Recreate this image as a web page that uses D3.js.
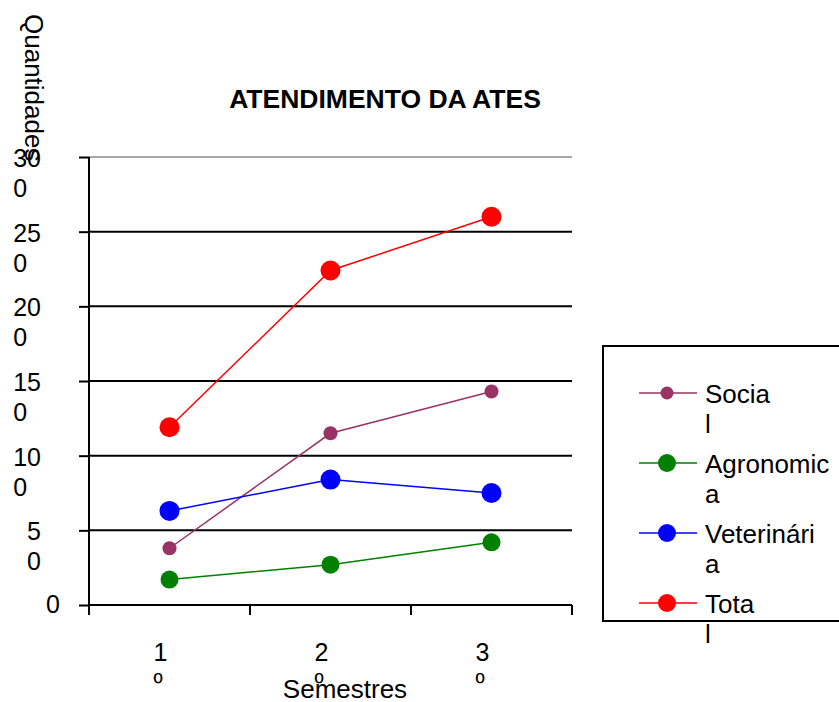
<!DOCTYPE html>
<html>
<head>
<meta charset="utf-8">
<script src="https://cdn.jsdelivr.net/npm/d3@7"></script>
<style>
  body { margin: 0; background: #fff; }
  text { font-family: Arial, "Liberation Sans", sans-serif; fill: #000; }
</style>
</head>
<body>
<div id="chart"></div>
<script>
// Data
const semesters = ["1º", "2º", "3º"];
const seriesNames = ["Social", "Agronomica", "Veterinária", "Total"];
const social = [38, 115, 143];
const agronomica = [17, 27, 42];
const veterinaria = [63, 84, 75];
const total = [119, 224, 260];
const yTicks = [0, 50, 100, 150, 200, 250, 300];
// legend labels as wrapped in the original
const legendLines = [["Socia", "l"], ["Agronomic", "a"], ["Veterinári", "a"], ["Tota", "l"]];

const seriesColors = ["#993366", "#008000", "#0000ff", "#ff0000"];
const markerRadius = [7, 9, 10, 10];
const legendRadius = [6.5, 9, 9, 9];

const settings = {
    width: 839,
    height: 702,
    left: 89,
    right: 572,
    top: 157,
    bottom: 605,
    lineHeight: 30,
    fontSize: 26,
    tickFont: 25,
};

const series = [social, agronomica, veterinaria, total].map((values, i) => ({
    name: seriesNames[i],
    color: seriesColors[i],
    r: markerRadius[i],
    values: values.map((v, j) => ({ cat: semesters[j], value: v })),
}));

const svg = d3.select("#chart").append("svg")
    .attr("width", settings.width)
    .attr("height", settings.height);

const x = d3.scaleBand()
    .domain(semesters)
    .range([settings.left, settings.right])
    .padding(0);

const y = d3.scaleLinear()
    .domain([0, 300])
    .range([settings.bottom, settings.top]);

// Gridlines
svg.append("g")
    .selectAll("line")
    .data(yTicks.filter(d => d > 0))
    .join("line")
    .attr("x1", settings.left)
    .attr("x2", settings.right)
    .attr("y1", d => y(d))
    .attr("y2", d => y(d))
    .attr("stroke", d => d === 300 ? "#a6a6a6" : "#000")
    .attr("stroke-width", 2);

// Y axis
const yAxis = svg.append("g")
    .attr("transform", `translate(${settings.left},0)`)
    .call(d3.axisLeft(y).tickValues(yTicks).tickSize(10).tickFormat(""));
yAxis.select(".domain").remove();
yAxis.selectAll(".tick line").attr("stroke-width", 2);
svg.append("line")
    .attr("x1", settings.left).attr("x2", settings.left)
    .attr("y1", settings.top).attr("y2", settings.bottom + 10)
    .attr("stroke", "#000").attr("stroke-width", 2);

// Y tick labels, wrapped like the original (last digit on its own line)
yTicks.forEach(t => {
    const s = String(t);
    const label = svg.append("text")
        .attr("font-size", settings.tickFont)
        .attr("y", y(t) + (s.length > 1 ? 10 : 8));
    if (s.length === 1) {
        label.attr("x", 60).attr("text-anchor", "end").text(s);
        return;
    }
    const first = label.append("tspan").attr("x", 41).attr("text-anchor", "end").text(s.slice(0, -1));
    const w = first.node().getComputedTextLength();
    label.append("tspan")
        .attr("x", 41 - w)
        .attr("dy", settings.lineHeight)
        .text(s.slice(-1));
});

// X axis
const xEdges = [settings.left].concat(semesters.map(s => x(s) + x.bandwidth()));
svg.append("line")
    .attr("x1", settings.left).attr("x2", settings.right)
    .attr("y1", settings.bottom).attr("y2", settings.bottom)
    .attr("stroke", "#000").attr("stroke-width", 2);
svg.append("g")
    .selectAll("line")
    .data(xEdges)
    .join("line")
    .attr("x1", d => d).attr("x2", d => d)
    .attr("y1", settings.bottom).attr("y2", settings.bottom + 10)
    .attr("stroke", "#000").attr("stroke-width", 2);

// X tick labels ("1" / "º")
semesters.forEach(s => {
    const cx = x(s) + x.bandwidth() / 2 - 16;
    const label = svg.append("text").attr("font-size", settings.tickFont).attr("y", 661);
    label.append("tspan").attr("x", cx).text(s.slice(0, -1));
    label.append("tspan").attr("x", cx).attr("dy", settings.lineHeight).text(s.slice(-1));
});

// Lines and markers
const line = d3.line()
    .x(d => x(d.cat) + x.bandwidth() / 2)
    .y(d => y(d.value));

const seriesGroups = svg.append("g")
    .selectAll("g")
    .data(series)
    .join("g");

seriesGroups.append("path")
    .attr("d", d => line(d.values))
    .attr("fill", "none")
    .attr("stroke", d => d.color)
    .attr("stroke-width", 1.5);

seriesGroups.each(function(s) {
    d3.select(this).selectAll("circle")
        .data(s.values)
        .join("circle")
        .attr("cx", d => x(d.cat) + x.bandwidth() / 2)
        .attr("cy", d => y(d.value))
        .attr("r", s.r)
        .attr("fill", s.color);
});

// Title
svg.append("text")
    .attr("x", 385)
    .attr("y", 108)
    .attr("text-anchor", "middle")
    .attr("font-size", 26.5)
    .attr("font-weight", "bold")
    .text("ATENDIMENTO DA ATES");

// Axis titles
svg.append("text")
    .attr("transform", "translate(25,14) rotate(90)")
    .attr("font-size", settings.fontSize)
    .text("Quantidades");

svg.append("text")
    .attr("x", 345)
    .attr("y", 698)
    .attr("text-anchor", "middle")
    .attr("font-size", settings.fontSize)
    .text("Semestres");

// Legend
const legend = svg.append("g");
legend.append("rect")
    .attr("x", 603)
    .attr("y", 346)
    .attr("width", 260)
    .attr("height", 275)
    .attr("fill", "#fff")
    .attr("stroke", "#000")
    .attr("stroke-width", 2);

const legendRows = legend.selectAll("g.row")
    .data(series)
    .join("g")
    .attr("class", "row")
    .attr("transform", (d, i) => `translate(0,${393 + i * 70})`);

legendRows.append("line")
    .attr("x1", 639).attr("x2", 697)
    .attr("stroke", d => d.color)
    .attr("stroke-width", 1.5);

legendRows.append("circle")
    .attr("cx", 667)
    .attr("r", (d, i) => legendRadius[i])
    .attr("fill", d => d.color);

legendRows.append("text")
    .attr("font-size", settings.fontSize)
    .attr("y", 10)
    .each(function(d, i) {
        legendLines[i].forEach((t, k) => {
            d3.select(this).append("tspan")
                .attr("x", 705)
                .attr("dy", k === 0 ? 0 : settings.lineHeight)
                .text(t);
        });
    });
</script>
</body>
</html>
